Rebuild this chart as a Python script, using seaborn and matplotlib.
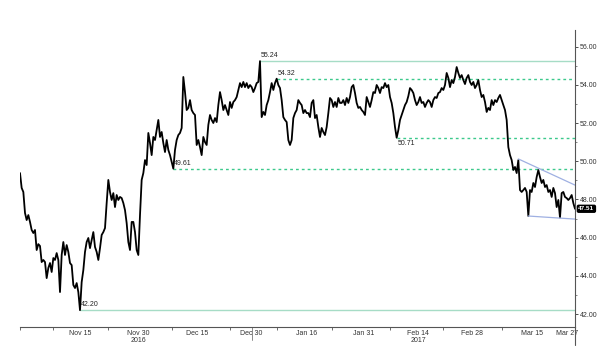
import numpy as np
import matplotlib
matplotlib.use("Agg")
import matplotlib.pyplot as plt
import matplotlib.transforms as mtransforms
import seaborn as sns

# price series, one value per session step (Nov 2016 - Mar 2017)
price_nov = [49.38, 48.60, 48.39, 47.29, 46.92, 47.18, 46.82, 46.40, 46.24, 46.40,
             45.35, 45.66, 45.56, 44.72, 44.83, 44.72, 43.88, 44.41, 44.67, 44.20,
             44.93, 44.83, 45.19, 44.83, 43.15, 45.09, 45.77, 45.09, 45.61, 45.25,
             44.67, 44.56, 43.52, 43.36, 43.62, 43.15, 42.20, 43.67, 44.30, 45.25,
             45.77, 45.98, 45.45, 45.87, 46.29, 45.51, 45.25, 44.83, 45.45, 46.14,
             46.29, 46.50, 47.81, 49.02, 48.39, 47.97, 48.33, 47.60, 48.23, 47.97,
             48.13, 48.07, 47.81, 47.44, 46.76, 45.77, 45.35, 46.82, 46.82, 46.29,
             45.35, 45.09]
price_dec = [47.18, 49.02, 49.38, 50.06, 49.80, 51.48, 50.95, 50.32, 51.27, 51.11,
             51.63, 52.16, 51.27, 51.53, 50.95, 50.48, 51.11, 50.59, 50.32, 49.96,
             49.61, 50.59, 51.11, 51.37, 51.48, 51.74, 54.41, 53.62, 52.68, 52.79,
             53.20, 52.68, 52.52, 52.42, 50.85, 51.11, 50.74, 50.32, 51.27, 51.00,
             50.85, 51.90, 52.42, 52.16, 52.00, 52.26, 52.05, 52.94, 53.62, 53.20,
             52.68, 52.94, 52.68, 52.42, 53.10, 52.79, 53.10, 53.20, 53.36, 53.73,
             54.09, 53.88, 54.15, 53.88, 54.09, 53.83, 53.99, 53.88, 53.62, 53.83,
             54.09, 54.15]
price_jan = [55.24, 52.31, 52.58, 52.42, 52.94, 53.20, 53.62, 54.09, 53.73, 54.09,
             54.32, 53.99, 53.83, 53.20, 52.31, 52.16, 52.05, 51.11, 50.85, 51.11,
             52.26, 52.52, 52.68, 53.20, 53.05, 52.94, 52.52, 52.68, 52.52, 52.52,
             52.31, 53.05, 53.20, 52.26, 52.42, 51.79, 51.27, 51.74, 51.53, 51.37,
             51.79, 52.52, 53.31, 53.20, 52.84, 53.10, 52.84, 53.31, 53.05, 53.05,
             53.20, 52.94, 53.31, 53.05, 53.36, 53.88, 53.99, 53.57, 53.05, 52.79,
             52.84, 52.68, 52.58, 52.42, 53.36, 53.10, 52.84, 53.20, 53.62, 53.57]
price_feb = [53.99, 53.83, 53.57, 53.88, 53.83, 54.09, 53.88, 53.99, 53.36, 53.05,
             52.52, 51.79, 51.23, 51.63, 52.16, 52.42, 52.68, 52.94, 53.10, 53.41,
             53.83, 53.73, 53.57, 53.20, 52.94, 53.10, 53.36, 53.05, 53.10, 52.84,
             53.05, 53.20, 53.10, 52.84, 53.20, 53.36, 53.31, 53.57, 53.62, 53.83,
             53.73, 53.99, 54.62, 54.36, 53.88, 54.25, 54.09, 54.41, 54.93, 54.62,
             54.36, 54.51, 54.25, 54.04, 54.36, 54.51, 54.15, 53.99, 54.15, 53.83,
             53.99, 54.25, 53.73, 53.36, 53.47, 53.10, 52.58, 52.79, 52.68, 53.20]
price_mar = [52.94, 53.20, 53.10, 53.31, 53.47, 53.20, 52.94, 52.68, 52.16, 50.74,
             50.32, 50.06, 49.54, 49.70, 49.38, 50.06, 48.49, 48.39, 48.49, 48.60,
             48.39, 47.13, 48.49, 48.39, 48.86, 48.65, 49.17, 49.54, 49.17, 48.86,
             49.02, 48.65, 48.75, 48.39, 48.49, 48.13, 48.60, 48.33, 47.60, 47.97,
             47.05, 48.33, 48.39, 48.13, 48.07, 47.97, 48.07, 48.23, 47.81, 47.51]
price = price_nov + price_dec + price_jan + price_feb + price_mar
steps = np.arange(len(price))

# x labels (step index where each date label sits)
date_labels = ["Nov 15", "Nov 30\n2016", "Dec 15", "Dec 30", "Jan 16", "Jan 31",
               "Feb 14\n2017", "Feb 28", "Mar 15", "Mar 27"]
date_steps = [36, 71, 106, 139, 172, 206, 239, 271, 307, 328]
period_steps = [0, 20, 53, 91, 126, 154, 187, 222, 254, 289]
year_break = 139

# annotated levels: (value shown, line level, start step, style, label placement)
levels = [("55.24", 55.24, 144, "solid", "above"),
          ("54.32", 54.32, 154, "dotted", "above"),
          ("50.71", 51.23, 226, "dotted", "below"),
          ("49.61", 49.61, 92, "dotted", "above"),
          ("42.20", 42.20, 36, "solid", "above")]

# falling wedge
wedge_top = ([299, 333], [50.12, 48.75])
wedge_bottom = ([305, 333], [47.13, 46.97])
last_price = 47.51

sns.set_style("white")
plt.rcParams["font.family"] = ["Liberation Sans", "DejaVu Sans"]

fig = plt.figure(figsize=(6.0, 3.53), dpi=100)
ax = fig.add_axes([20 / 600, 26 / 353, 555 / 600, 297 / 353])

sns.lineplot(x=steps, y=price, ax=ax, color="black", linewidth=1.3, estimator=None)

mint = "#a6dcc6"
green = "#3cc98c"
for text, lvl, start, style, place in levels:
    if style == "solid":
        ax.hlines(lvl, start, steps[-1], color=mint, linewidth=1.0, zorder=1)
    else:
        ax.hlines(lvl, start, steps[-1], color=green, linewidth=1.0,
                  linestyles=(0, (2, 2.2)), zorder=1)
    off = 1.5 if place == "above" else -7
    ax.annotate(text, (start, lvl), xytext=(0.5, off), textcoords="offset points",
                fontsize=5, color="#222222", va="bottom", ha="left")

ax.plot(*wedge_top, color="#9fb0e2", linewidth=0.9)
ax.plot(*wedge_bottom, color="#9fb0e2", linewidth=0.9)

ax.set_xlim(0, steps[-1])
ax.set_ylim(41.32, 56.87)

for side in ["top", "left"]:
    ax.spines[side].set_visible(False)
for side in ["bottom", "right"]:
    ax.spines[side].set_color("#555555")
    ax.spines[side].set_linewidth(0.8)

ax.yaxis.tick_right()
ax.set_yticks(np.arange(42, 57, 2))
ax.set_yticklabels([f"{v:.2f}" for v in np.arange(42, 57, 2)])
ax.set_yticks(np.arange(43, 57, 2), minor=True)
ax.tick_params(axis="y", which="major", direction="out", length=2.5, width=0.6,
               pad=1, labelsize=5, colors="#333333", right=True, left=False)
ax.tick_params(axis="y", which="minor", direction="out", length=1.5, width=0.5,
               right=True, left=False, colors="#555555")

ax.set_xticks(date_steps)
ax.set_xticklabels(date_labels)
ax.set_xticks(period_steps, minor=True)
ax.tick_params(axis="x", which="major", length=0, pad=2, labelsize=5, colors="#333333")
ax.tick_params(axis="x", which="minor", direction="out", length=2, width=0.6,
               colors="#555555", bottom=True)
for lab in ax.get_xticklabels():
    lab.set_linespacing(0.95)
ax.set_xlabel("")
ax.set_ylabel("")

# year divider and right axis extension below the time axis
trans = mtransforms.blended_transform_factory(ax.transData, ax.transAxes)
ax.plot([year_break, year_break], [0, -0.045], transform=trans, color="#777777",
        linewidth=0.6, clip_on=False)
ax.plot([1, 1], [0, -0.06], transform=ax.transAxes, color="#555555",
        linewidth=0.8, clip_on=False)

# last price tag
tag = mtransforms.blended_transform_factory(ax.transAxes, ax.transData)
ax.text(1.006, last_price, f"{last_price:.2f}", transform=tag, fontsize=4.6,
        color="white", ha="left", va="center", fontweight="bold",
        bbox=dict(boxstyle="round,pad=0.15,rounding_size=0.2", fc="black", ec="black"))

fig.savefig("out.png", dpi=100)
